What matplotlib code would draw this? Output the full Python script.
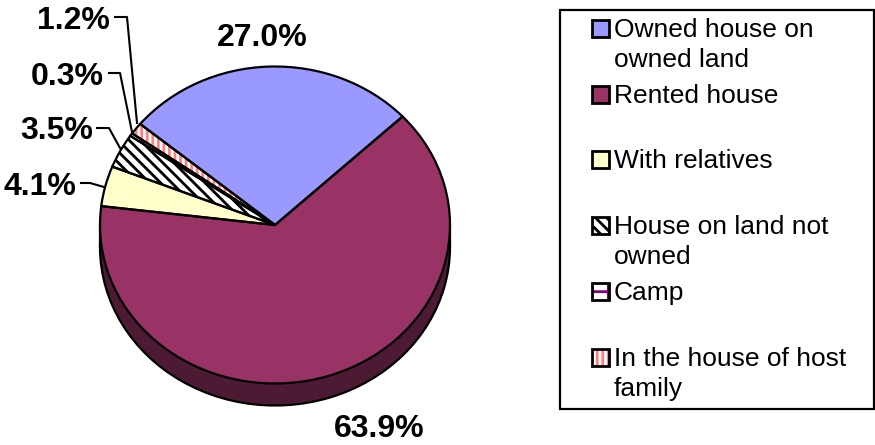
import matplotlib
matplotlib.use('Agg')
import matplotlib.pyplot as plt
from matplotlib.patches import Rectangle

plt.rcParams['font.family'] = ['Liberation Sans', 'DejaVu Sans']
plt.rcParams['hatch.linewidth'] = 2.0

categories = ['Owned house on\nowned land', 'Rented house', 'With relatives',
              'House on land not\nowned', 'Camp', 'In the house of host\nfamily']
values = [27.0, 63.9, 4.1, 3.5, 0.3, 1.2]
value_labels = ['27.0%', '63.9%', '4.1%', '3.5%', '0.3%', '1.2%']
side_colors = ['#4D4D80', '#4D1A33', '#808066', '#808080', '#808080', '#804040']
face_colors = ['#9999FF', '#993366', '#FFFFCC', 'white', 'white', 'white']
hatch_colors = [None, None, None, 'black', '#800080', '#FF8080']
hatches = [None, None, None, '\\\\\\', '+', '|||']

W, H = 875, 445
cx, cy, rx, ry = 275, 225, 175, 158.5
depth = 22 / ry

fig = plt.figure(figsize=(8.75, 4.45), dpi=100)

# pie squashed by using a non equal axes, whole figure in pie units
ax = fig.add_axes([0, 0, 1, 1])
start = 140.4

# side of the pie: same pie shifted down + band between
ax.pie(values, colors=side_colors, startangle=start, counterclock=False, center=(0, -depth),
       wedgeprops={'edgecolor': 'black', 'linewidth': 1.6})
ax.add_patch(Rectangle((-1, -depth), 2, depth, facecolor='#4D1A33', edgecolor='none', zorder=2))
ax.plot([-1, -1], [-depth, 0], color='black', lw=1.6, zorder=3)
ax.plot([1, 1], [-depth, 0], color='black', lw=1.6, zorder=3)

# top face, hatched wedges first then outlines on top
top, _ = ax.pie(values, colors=face_colors, startangle=start, counterclock=False,
                wedgeprops={'linewidth': 0})
for w, h, hc in zip(top, hatches, hatch_colors):
    w.set_zorder(4)
    if h:
        w.set_hatch(h)
        w.set_edgecolor(hc)
outline, _ = ax.pie(values, colors=['none'] * 6, startangle=start, counterclock=False,
                    wedgeprops={'edgecolor': 'black', 'linewidth': 1.6})
for w in outline:
    w.set_zorder(5)

ax.set_aspect('auto')
ax.set_xlim(-cx / rx, (W - cx) / rx)
ax.set_ylim(-(H - cy) / ry, cy / ry)
ax.axis('off')

# overlay in pixels for labels and legend
ov = fig.add_axes([0, 0, 1, 1], zorder=10)
ov.set_xlim(0, W)
ov.set_ylim(H, 0)
ov.axis('off')

label_pos = [(262, 38, 'center'), (379, 429, 'center'), (76, 187, 'right'),
             (93, 131, 'right'), (104, 77, 'right'), (110, 21, 'right')]
for txt, (x, y, ha) in zip(value_labels, label_pos):
    ov.text(x, y, txt, fontsize=23, fontweight='bold', ha=ha, va='center', color='black')

leaders = [([81, 90, 104], [183, 183, 187]),
           ([97, 109, 120], [128, 128, 148]),
           ([109, 120, 132], [73, 73, 132]),
           ([115, 127, 137], [17, 17, 123])]
for xs, ys in leaders:
    ov.plot(xs, ys, color='black', lw=1.5)

# legend
ov.add_patch(Rectangle((560, 10), 314, 399, facecolor='white', edgecolor='black', lw=1.6))
swatch_y = [28, 94, 159, 225, 291, 357]
for cat, y, fc, h, hc in zip(categories, swatch_y, face_colors, hatches, hatch_colors):
    ov.add_patch(Rectangle((592, y - 8.5), 17, 17, facecolor=fc, edgecolor=hc if h else 'none',
                           hatch=h, lw=0))
    ov.add_patch(Rectangle((592, y - 8.5), 17, 17, facecolor='none', edgecolor='black', lw=2))
    for i, line in enumerate(cat.split('\n')):
        ov.text(614, y + i * 30 + 2, line, fontsize=19, ha='left', va='center', color='black')

fig.savefig('out.png', dpi=100)
